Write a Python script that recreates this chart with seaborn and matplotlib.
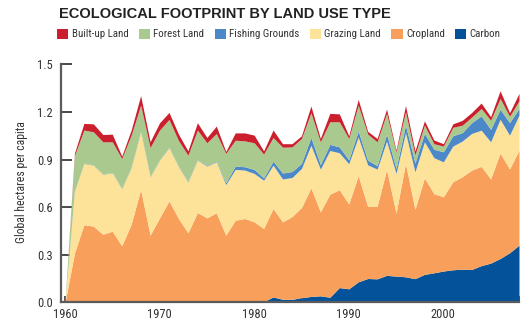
import matplotlib
matplotlib.use("Agg")
import matplotlib.pyplot as plt
from matplotlib import font_manager as fm
from matplotlib.patches import Patch
from matplotlib.ticker import FixedLocator
import pandas as pd
import seaborn as sns

# Global ecological footprint per capita by land use type (global hectares)
years = list(range(1960, 2009))

carbon = [
    0, 0, 0, 0, 0, 0, 0, 0, 0, 0,
    0, 0, 0, 0, 0, 0, 0, 0.012, 0, 0,
    0, 0.005, 0.035, 0.02, 0.02, 0.03, 0.038, 0.042, 0.033, 0.094,
    0.086, 0.13, 0.151, 0.149, 0.171, 0.166, 0.162, 0.15, 0.177, 0.187,
    0.198, 0.206, 0.21, 0.208, 0.232, 0.248, 0.277, 0.313, 0.361,
]
cropland = [
    0, 0.31, 0.49, 0.481, 0.43, 0.449, 0.357, 0.493, 0.712, 0.424,
    0.533, 0.64, 0.529, 0.439, 0.567, 0.533, 0.565, 0.412, 0.518, 0.529,
    0.508, 0.461, 0.557, 0.488, 0.521, 0.568, 0.684, 0.529, 0.649, 0.616,
    0.534, 0.67, 0.454, 0.456, 0.667, 0.397, 0.714, 0.437, 0.608, 0.498,
    0.468, 0.554, 0.582, 0.626, 0.625, 0.53, 0.664, 0.528, 0.598,
]
grazing = [
    0, 0.39, 0.386, 0.384, 0.378, 0.368, 0.361, 0.357, 0.363, 0.368,
    0.364, 0.336, 0.326, 0.321, 0.33, 0.326, 0.321, 0.319, 0.32, 0.305,
    0.305, 0.304, 0.273, 0.27, 0.246, 0.246, 0.268, 0.269, 0.275, 0.233,
    0.254, 0.242, 0.262, 0.235, 0.179, 0.25, 0.194, 0.236, 0.227, 0.227,
    0.22, 0.225, 0.225, 0.231, 0.228, 0.234, 0.213, 0.213, 0.221,
]
fishing = [
    0, 0.002, 0.002, 0.002, 0.002, 0.002, 0.004, 0.003, 0.003, 0.003,
    0.003, 0.003, 0.003, 0.004, 0.003, 0.004, 0.004, 0.011, 0.021, 0.021,
    0.025, 0.015, 0.025, 0.037, 0.038, 0.032, 0.05, 0.028, 0.039, 0.037,
    0.024, 0.038, 0.029, 0.022, 0.043, 0.031, 0.047, 0.055, 0.053, 0.053,
    0.063, 0.065, 0.053, 0.068, 0.09, 0.078, 0.063, 0.079, 0.042,
]
forest = [
    0, 0.223, 0.208, 0.208, 0.202, 0.193, 0.185, 0.201, 0.165, 0.181,
    0.186, 0.174, 0.162, 0.164, 0.186, 0.143, 0.174, 0.185, 0.163, 0.163,
    0.168, 0.15, 0.149, 0.163, 0.155, 0.157, 0.155, 0.144, 0.142, 0.158,
    0.135, 0.163, 0.165, 0.15, 0.131, 0.105, 0.084, 0.052, 0.052, 0.035,
    0.036, 0.053, 0.047, 0.035, 0.047, 0.058, 0.068, 0.04, 0.048,
]
built_up = [
    0, 0.015, 0.042, 0.05, 0.046, 0.048, 0.015, 0.032, 0.06, 0.036,
    0.046, 0.044, 0.04, 0.027, 0.046, 0.033, 0.047, 0.012, 0.046, 0.05,
    0.048, 0.02, 0.047, 0.022, 0.02, 0.017, 0.042, 0.021, 0.053, 0.05,
    0.017, 0.036, 0.017, 0.021, 0.027, 0.011, 0.039, 0.025, 0.027, 0.023,
    0.015, 0.022, 0.03, 0.029, 0.034, 0.022, 0.048, 0.022, 0.047,
]

# stacking order, bottom to top
layers = ["Carbon", "Cropland", "Grazing Land", "Fishing Grounds", "Forest Land", "Built-up Land"]
palette = ["#04539A", "#F8A05B", "#FDE29A", "#4C88C8", "#A9C98E", "#CC1F2D"]

df = pd.DataFrame({
    "Year": years,
    "Carbon": carbon,
    "Cropland": cropland,
    "Grazing Land": grazing,
    "Fishing Grounds": fishing,
    "Forest Land": forest,
    "Built-up Land": built_up,
})

decade_ticks = [1960, 1970, 1980, 1990, 2000]
half_ticks = [1965, 1975, 1985, 1995, 2005, 2008]
y_ticks = [0.0, 0.3, 0.6, 0.9, 1.2, 1.5]


def pick_narrow_font():
    """Return (family, stretch) of a condensed face if one is installed."""
    for fam, stretch in [("Liberation Sans Narrow", "normal"),
                         ("Roboto Condensed", "normal"),
                         ("DejaVu Sans", "condensed"),
                         ("Noto Sans", "condensed"),
                         ("Open Sans", "condensed")]:
        try:
            path = fm.findfont(fm.FontProperties(family=fam, stretch=stretch),
                               fallback_to_default=False)
        except Exception:
            continue
        low = path.lower()
        if "narrow" in low or "condensed" in low:
            return fam, stretch
    return None


sns.set_theme(style="ticks")
found = pick_narrow_font()
if found:
    label_font = {"family": [found[0], "DejaVu Sans"], "stretch": found[1]}
    tick_size, legend_size, ylab_size = 9, 7.8, 8.5
else:
    label_font = {"family": ["Liberation Sans", "DejaVu Sans"], "stretch": "normal"}
    tick_size, legend_size, ylab_size = 8, 7.0, 7.6
plt.rcParams["font.family"] = label_font["family"]
plt.rcParams["font.stretch"] = label_font["stretch"]

fig = plt.figure(figsize=(5.29, 3.24), dpi=100)
ax = fig.add_axes([0.1153, 0.0664, 0.8667, 0.7351])

colors = sns.color_palette(palette)
ax.stackplot(df["Year"], *[df[c] for c in layers], colors=colors, linewidth=0)

ax.set_xlim(1959.58, 2008.05)
ax.set_ylim(0, 1.5)
ax.xaxis.set_major_locator(FixedLocator(decade_ticks))
ax.xaxis.set_minor_locator(FixedLocator(half_ticks))
ax.set_yticks(y_ticks)
ax.set_yticklabels([f"{v:.1f}" for v in y_ticks])
ax.set_xticklabels([str(t) for t in decade_ticks])

sns.despine(ax=ax)
for side in ("left", "bottom"):
    ax.spines[side].set_color("#5b5b5b")
    ax.spines[side].set_linewidth(1.6)
    ax.spines[side].set_zorder(5)

ax.tick_params(axis="y", which="major", direction="in", length=8, width=1.4,
               color="#4a4a4a", pad=6, labelsize=tick_size, labelcolor="#333333")
ax.tick_params(axis="x", which="both", direction="in", length=4, width=1.3,
               color="#4a4a4a", pad=4, labelsize=tick_size, labelcolor="#333333")
for t in ax.get_xticklabels() + ax.get_yticklabels():
    t.set_fontfamily(label_font["family"])
    t.set_fontstretch(label_font["stretch"])
ax.grid(False)
ax.set_xlabel("")
ax.set_ylabel("")

fig.text(22 / 529, 1 - 182 / 324, "Global hectares per capita", rotation=90,
         ha="center", va="center", fontsize=ylab_size, color="#333333",
         family=label_font["family"], stretch=label_font["stretch"])

fig.text(59 / 529, 1 - 13.5 / 324, "ECOLOGICAL FOOTPRINT BY LAND USE TYPE",
         ha="left", va="center", fontsize=10.5, fontweight="bold", color="#222222",
         family=["Liberation Sans", "DejaVu Sans"])

handles = [Patch(facecolor=colors[layers.index(n)], edgecolor="none", label=n)
           for n in layers[::-1]]
fig.legend(handles=handles, loc="center left", bbox_to_anchor=(57 / 529, 1 - 34 / 324),
           ncol=6, frameon=False, borderpad=0, borderaxespad=0,
           handlelength=1.05, handleheight=1.05, handletextpad=0.3,
           columnspacing=0.95,
           prop={"family": label_font["family"], "stretch": label_font["stretch"],
                 "size": legend_size},
           labelcolor="#333333")

fig.savefig("out.png", dpi=100)
